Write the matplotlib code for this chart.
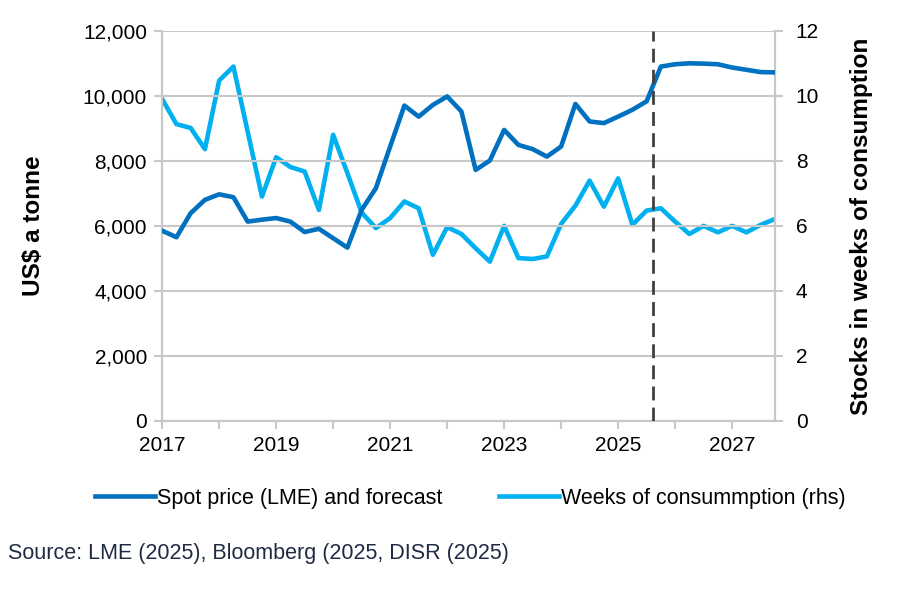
import matplotlib.pyplot as plt
import numpy as np

# quarterly, 2017 Q1 .. 2027 Q4
quarters = np.arange(44)
years = 2017 + quarters / 4

spot_price = [5850, 5650, 6390, 6800, 6970, 6880, 6130, 6190, 6240, 6130, 5810, 5910,
              5620, 5330, 6490, 7160, 8440, 9700, 9360, 9720, 9980, 9520, 7720, 8010,
              8950, 8490, 8360, 8130, 8440, 9750, 9210, 9160, 9360, 9570, 9830, 10900,
              10970, 11000, 10990, 10970, 10870, 10800, 10730, 10720]
weeks_consumption = [9.90, 9.13, 9.01, 8.36, 10.47, 10.90, 8.90, 6.90, 8.11, 7.81, 7.67, 6.49,
                     8.80, 7.62, 6.41, 5.93, 6.24, 6.75, 6.54, 5.11, 5.96, 5.75, 5.31, 4.90,
                     6.00, 5.01, 4.98, 5.06, 6.06, 6.62, 7.39, 6.59, 7.46, 6.03, 6.47, 6.54,
                     6.13, 5.75, 6.00, 5.80, 6.00, 5.80, 6.03, 6.21]
forecast_start = 2025.61

dark_blue = '#0070C0'
light_blue = '#00B0F0'
grid_grey = '#C8C8C8'

plt.rcParams['font.family'] = ['Liberation Sans', 'DejaVu Sans']

fig = plt.figure(figsize=(9.01, 5.92), dpi=100)
ax = fig.add_axes([0.18, 0.289, 0.68, 0.659])
ax2 = ax.twinx()

l1, = ax.plot(years, spot_price, color=dark_blue, lw=3.3, solid_joinstyle='round',
              label='Spot price (LME) and forecast', zorder=3)
l2, = ax2.plot(years, weeks_consumption, color=light_blue, lw=3.3, solid_joinstyle='round',
               label='Weeks of consummption (rhs)', zorder=3)
ax.axvline(forecast_start, color='#404040', lw=2, ls=(0, (5, 2.6)), zorder=4)

ax.set_xlim(2017, 2017 + 43 / 4)
ax.set_ylim(0, 12000)
ax2.set_ylim(0, 12)
ax.set_yticks(np.arange(0, 12001, 2000))
ax.set_yticklabels([f'{v:,}' for v in range(0, 12001, 2000)])
ax2.set_yticks(np.arange(0, 13, 2))
ax.set_xticks(np.arange(2017, 2028, 1), minor=True)
ax.set_xticks(np.arange(2017, 2028, 2))
ax.set_xticklabels([str(y) for y in range(2017, 2028, 2)])

ax.grid(axis='y', color=grid_grey, lw=1.5)
ax.set_axisbelow(True)
ax.set_zorder(ax2.get_zorder() + 1)
ax.patch.set_visible(False)

for a in (ax, ax2):
    for s in a.spines.values():
        s.set_color(grid_grey)
        s.set_linewidth(1.5)
    a.spines['top'].set_visible(False)
    a.tick_params(axis='both', which='both', color=grid_grey, width=1.5, length=6,
                  labelsize=15, labelcolor='black')
ax.tick_params(axis='x', pad=5)
ax.tick_params(axis='y', pad=5)
ax2.tick_params(axis='y', pad=9)

ax.set_ylabel('US$ a tonne', fontsize=17.5, fontweight='bold', labelpad=27)
ax2.set_ylabel('Stocks in weeks of consumption', fontsize=17.5, fontweight='bold', labelpad=22)

fig.legend(handles=[l1, l2], loc='center', bbox_to_anchor=(0.522, 0.158), ncol=2,
           frameon=False, fontsize=15.5, handlelength=2.8, handletextpad=0.1,
           columnspacing=2.6)

fig.text(0.009, 0.055, 'Source: LME (2025), Bloomberg (2025, DISR (2025)',
         fontsize=15.5, color='#1F2A44')

fig.savefig('out.png', dpi=100)
